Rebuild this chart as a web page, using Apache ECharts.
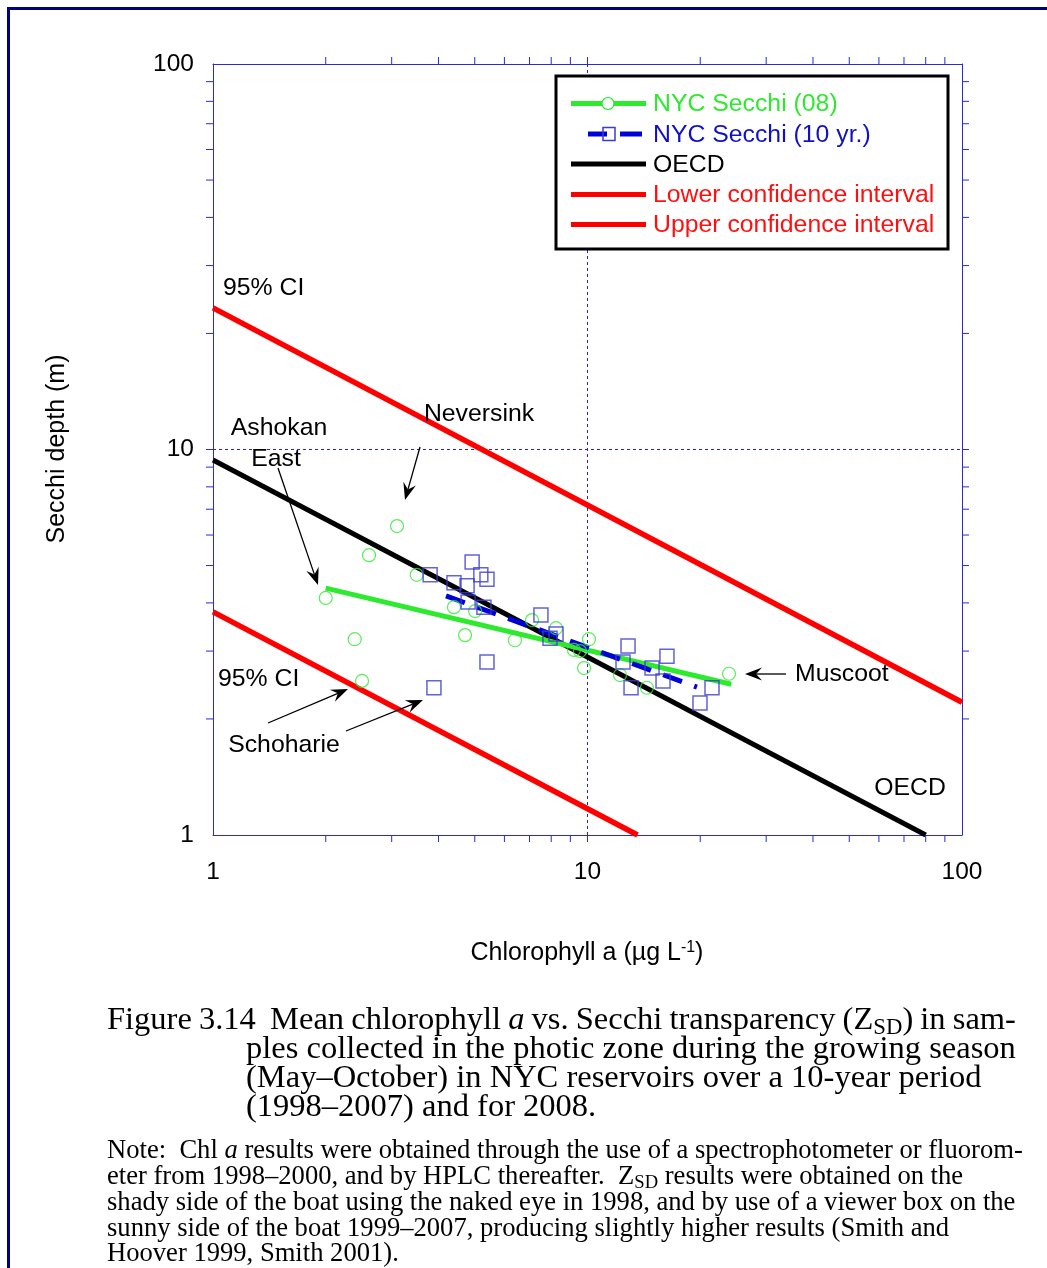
<!DOCTYPE html>
<html>
<head>
<meta charset="utf-8">
<title>Chlorophyll a vs. Secchi depth</title>
<script src="https://cdn.jsdelivr.net/npm/echarts@6/dist/echarts.min.js"></script>
<style>
  html, body { margin: 0; padding: 0; background: #fff; }
  #chart { position: absolute; left: 0; top: 0; width: 1047px; height: 1268px; }
  .cap { position: absolute; font-family: "Liberation Serif", "Times New Roman", serif; color: #000; white-space: pre; }
  .fig { font-size: 32.5px; line-height: 29px; }
  .note { font-size: 26.6px; line-height: 26px; }
  .cap sub { font-size: 70%; vertical-align: -0.22em; line-height: 0; }
</style>
</head>
<body>
<div id="chart"></div>

<div class="cap fig" style="left:107px;top:1004px;word-spacing:-1px">Figure 3.14  Mean chlorophyll <i>a</i> vs. Secchi transparency (Z<sub>SD</sub>) in sam-</div>
<div class="cap fig" style="left:246px;top:1033px">ples collected in the photic zone during the growing season</div>
<div class="cap fig" style="left:246px;top:1062px">(May–October) in NYC reservoirs over a 10-year period</div>
<div class="cap fig" style="left:246px;top:1091px">(1998–2007) and for 2008.</div>

<div class="cap note" style="left:107px;top:1136px">Note:  Chl <i>a</i> results were obtained through the use of a spectrophotometer or fluorom-</div>
<div class="cap note" style="left:107px;top:1162px">eter from 1998–2000, and by HPLC thereafter.  Z<sub>SD</sub> results were obtained on the</div>
<div class="cap note" style="left:107px;top:1188px">shady side of the boat using the naked eye in 1998, and by use of a viewer box on the</div>
<div class="cap note" style="left:107px;top:1214px">sunny side of the boat 1999–2007, producing slightly higher results (Smith and</div>
<div class="cap note" style="left:107px;top:1239px">Hoover 1999, Smith 2001).</div>

<script>
// ---- data: chlorophyll a (ug/L) and Secchi depth (m) ----
// 2008 reservoir means (green circles)
const chl08    = [2.00, 2.39, 2.50, 2.61, 3.10, 3.50, 4.40, 5.01, 4.71, 6.40, 7.11, 8.24, 9.20, 9.55, 10.09, 9.79, 12.21, 14.41, 23.87];
const secchi08 = [4.12, 3.22, 2.51, 5.32, 6.33, 4.73, 3.90, 3.81, 3.30, 3.20, 3.61, 3.44, 3.02, 3.00, 3.22, 2.71, 2.60, 2.41, 2.62];
// 10-year (1998-2007) reservoir means (blue squares)
const chl10yr    = [3.80, 4.92, 4.40, 4.77, 5.19, 5.39, 4.80, 5.29, 5.39, 3.89, 7.51, 7.94, 8.24, 12.83, 12.44, 16.30, 14.87, 15.91, 13.07, 21.50, 19.97];
const secchi10yr = [4.73, 5.11, 4.51, 4.43, 4.73, 4.61, 4.02, 3.90, 2.81, 2.41, 3.72, 3.24, 3.32, 3.09, 2.81, 2.91, 2.71, 2.51, 2.41, 2.41, 2.20];
// fitted regression lines (end points)
const fit08Chl = [2.0, 24.2],   fit08Secchi = [4.37, 2.46];
const fit10Chl = [4.19, 19.6],  fit10Secchi = [4.17, 2.42];
// OECD relationship and its 95% confidence limits
const oecdChl  = [1, 80],   oecdSecchi  = [9.39, 1];
const upperChl = [1, 100],  upperSecchi = [23.3, 2.21];
const lowerChl = [1, 13.6], lowerSecchi = [3.79, 1];
// log-axis tick positions (minor ticks plus the decade inside the frame)
const tickValues = [2, 3, 4, 5, 6, 7, 8, 9, 10, 20, 30, 40, 50, 60, 70, 80, 90];
// legend entries
const legendNames = ['NYC Secchi (08)', 'NYC Secchi (10 yr.)', 'OECD', 'Lower confidence interval', 'Upper confidence interval'];

const zip = (xs, ys) => xs.map((x, i) => [x, ys[i]]);

const SANS = '"Liberation Sans", Arial, Helvetica, sans-serif';
const AXIS_BLUE = '#2a2ad8';
const GRID_BLUE = '#1f1fff';
const GREEN = '#2eea2e';
const BLUE = '#0000d8';
const SQUARE_BLUE = '#3b3bd0';
const RED = '#ff0000';
const NAVY = '#000080';
const TEXT_SIZE = 24.8;

function txt(text, x, y, opts) {
  opts = opts || {};
  return {
    type: 'text', x: x, y: y, z: 60, rotation: opts.rotation || 0,
    style: {
      text: text,
      font: (opts.size || TEXT_SIZE) + 'px ' + SANS,
      fill: opts.color || '#000',
      align: opts.align || 'center', textAlign: opts.align || 'center',
      verticalAlign: 'middle', textVerticalAlign: 'middle',
      rich: opts.rich
    }
  };
}

function arrow(x1, y1, x2, y2) {
  const dx = x2 - x1, dy = y2 - y1, len = Math.hypot(dx, dy);
  const ux = dx / len, uy = dy / len, px = -uy, py = ux;
  const hl = 17, hw = 6.5, notch = 11;
  const bx = x2 - ux * hl, by = y2 - uy * hl;
  const nx = x2 - ux * notch, ny = y2 - uy * notch;
  return [
    { type: 'line', z: 60, shape: { x1: x1, y1: y1, x2: nx, y2: ny }, style: { stroke: '#000', lineWidth: 1.3 } },
    { type: 'polygon', z: 60, shape: { points: [[x2, y2], [bx + px * hw, by + py * hw], [nx, ny], [bx - px * hw, by - py * hw]] }, style: { fill: '#000' } }
  ];
}

// legend drawn as a boxed key
function legendGraphics() {
  const g = [];
  const left = 556, top = 76, right = 948, bottom = 249;
  g.push({ type: 'rect', z: 70, shape: { x: left, y: top, width: right - left, height: bottom - top }, style: { fill: '#fff', stroke: '#000', lineWidth: 3 } });
  const rows = [103.5, 134, 164, 194.5, 224.5];
  const colors = [GREEN, '#1010c8', '#000', '#ff1010', '#ff1010'];
  const x0 = 571, x1 = 646;
  // row 1: green line with open circle
  g.push({ type: 'line', z: 71, shape: { x1: x0, y1: rows[0], x2: x1, y2: rows[0] }, style: { stroke: GREEN, lineWidth: 5 } });
  g.push({ type: 'circle', z: 72, shape: { cx: 608, cy: rows[0], r: 6 }, style: { fill: '#fff', stroke: GREEN, lineWidth: 1.2 } });
  // row 2: blue dashed line with open square
  g.push({ type: 'line', z: 71, shape: { x1: 588, y1: rows[1], x2: 607, y2: rows[1] }, style: { stroke: BLUE, lineWidth: 5 } });
  g.push({ type: 'line', z: 71, shape: { x1: 620, y1: rows[1], x2: 642, y2: rows[1] }, style: { stroke: BLUE, lineWidth: 5 } });
  g.push({ type: 'rect', z: 72, shape: { x: 603, y: rows[1] - 6.5, width: 12, height: 13 }, style: { fill: 'rgba(255,255,255,0)', stroke: SQUARE_BLUE, lineWidth: 1.5 } });
  // rows 3-5: solid lines
  [[2, '#000'], [3, RED], [4, RED]].forEach(function (r) {
    g.push({ type: 'line', z: 71, shape: { x1: x0, y1: rows[r[0]], x2: x1, y2: rows[r[0]] }, style: { stroke: r[1], lineWidth: 5 } });
  });
  legendNames.forEach(function (name, i) {
    g.push(Object.assign(txt(name, 653, rows[i] + 1, { align: 'left', color: colors[i] }), { z: 73 }));
  });
  return g;
}

const graphics = [].concat(
  // page frame
  [{ type: 'line', z: 80, shape: { x1: 8, y1: 8.5, x2: 1047, y2: 8.5 }, style: { stroke: NAVY, lineWidth: 3 } },
   { type: 'line', z: 80, shape: { x1: 8.5, y1: 7, x2: 8.5, y2: 1268 }, style: { stroke: NAVY, lineWidth: 3 } }],
  legendGraphics(),
  // axis titles
  [txt('Secchi depth (m)', 57, 449, { size: 25, rotation: Math.PI / 2 }),
   txt('Chlorophyll a (µg L{sup|-1})', 587, 953, { size: 25, rich: { sup: { fontSize: 16, fontFamily: SANS, verticalAlign: 'top', padding: [0, 0, 10, 0] } } })],
  // annotations
  [txt('95% CI', 223, 288, { align: 'left' }),
   txt('Ashokan', 279, 428),
   txt('East', 276, 459),
   txt('Neversink', 479, 414),
   txt('95% CI', 218, 679, { align: 'left' }),
   txt('Schoharie', 284, 745),
   txt('Muscoot', 795, 674, { align: 'left' }),
   txt('OECD', 910, 788)],
  arrow(420, 447, 405, 500),
  arrow(278, 468, 318, 585),
  arrow(268, 723, 348, 689),
  arrow(346, 731, 423, 700),
  arrow(786, 674, 745, 674)
);

const baseAxis = {
  type: 'log', logBase: 10, min: 1, max: 100,
  axisLine: { show: true, lineStyle: { color: AXIS_BLUE, width: 1 } },
  axisTick: { show: false },
  minorTick: { show: false },
  minorSplitLine: { show: false }
};

const chart = echarts.init(document.getElementById('chart'), null, { renderer: 'canvas', width: 1047, height: 1268 });

chart.setOption({
  animation: false,
  backgroundColor: 'rgba(255,255,255,0)',
  grid: { left: 213, top: 64, width: 749, height: 771, containLabel: false },
  xAxis: [
    Object.assign({}, baseAxis, {
      position: 'bottom',
      axisLabel: { show: true, fontSize: 24.5, fontFamily: SANS, color: '#000', margin: 25 },
      splitLine: { show: true, lineStyle: { color: GRID_BLUE, width: 1, type: [3, 3] } }
    }),
    Object.assign({}, baseAxis, { position: 'top', axisLabel: { show: false }, splitLine: { show: false } })
  ],
  yAxis: [
    Object.assign({}, baseAxis, {
      position: 'left',
      axisLabel: { show: true, fontSize: 24.5, fontFamily: SANS, color: '#000', margin: 19, padding: [3, 0, 0, 0] },
      splitLine: { show: true, lineStyle: { color: GRID_BLUE, width: 1, type: [3, 3] } }
    }),
    Object.assign({}, baseAxis, { position: 'right', axisLabel: { show: false }, splitLine: { show: false } })
  ],
  series: [
    { name: 'Upper confidence interval', type: 'line', data: zip(upperChl, upperSecchi), symbol: 'none', z: 3,
      lineStyle: { color: RED, width: 5.5 } },
    { name: 'Lower confidence interval', type: 'line', data: zip(lowerChl, lowerSecchi), symbol: 'none', z: 3,
      lineStyle: { color: RED, width: 5.5 } },
    { name: 'OECD', type: 'line', data: zip(oecdChl, oecdSecchi), symbol: 'none', z: 3,
      lineStyle: { color: '#000', width: 5 } },
    { name: 'NYC Secchi (08)', type: 'line', data: zip(fit08Chl, fit08Secchi), symbol: 'none', z: 4,
      lineStyle: { color: GREEN, width: 5 } },
    { name: 'NYC Secchi (10 yr.)', type: 'line', data: zip(fit10Chl, fit10Secchi), symbol: 'none', z: 5,
      lineStyle: { color: BLUE, width: 5, type: [20, 13], cap: 'butt' } },
    { name: 'NYC Secchi (08)', type: 'scatter', data: zip(chl08, secchi08), symbol: 'circle', symbolSize: 13, z: 6,
      itemStyle: { color: 'rgba(255,255,255,0)', borderColor: GREEN, borderWidth: 1.2 } },
    { name: 'NYC Secchi (10 yr.)', type: 'scatter', data: zip(chl10yr, secchi10yr), symbol: 'rect', symbolSize: 14, z: 6,
      itemStyle: { color: 'rgba(255,255,255,0)', borderColor: SQUARE_BLUE, borderWidth: 1.5 } },
    // outward tick marks on all four sides of the frame, placed by the log scales
    { type: 'custom', silent: true, z: 7, clip: false,
      data: tickValues.map(v => [v, v]),
      renderItem: function (params, api) {
        const v = api.value(0);
        const b = api.coord([v, 1]), t = api.coord([v, 100]);
        const l = api.coord([1, v]), r = api.coord([100, v]);
        const L = 7;
        const st = { stroke: AXIS_BLUE, lineWidth: 1 };
        return { type: 'group', children: [
          { type: 'line', shape: { x1: b[0], y1: b[1], x2: b[0], y2: b[1] + L }, style: st },
          { type: 'line', shape: { x1: t[0], y1: t[1], x2: t[0], y2: t[1] - L }, style: st },
          { type: 'line', shape: { x1: l[0], y1: l[1], x2: l[0] - L, y2: l[1] }, style: st },
          { type: 'line', shape: { x1: r[0], y1: r[1], x2: r[0] + L, y2: r[1] }, style: st }
        ] };
      }
    }
  ],
  graphic: graphics
});
</script>
</body>
</html>
